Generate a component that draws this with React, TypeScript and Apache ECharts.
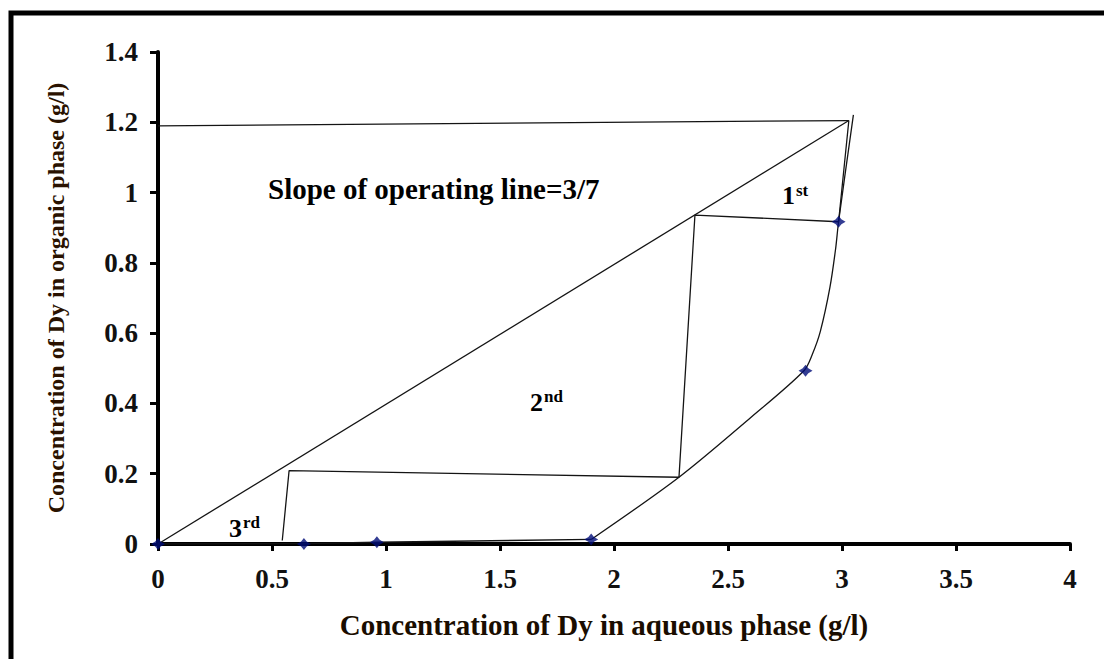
import React, { useEffect, useRef } from "react";
import * as echarts from "echarts";

// ---- data ----
// equilibrium curve: flat part along the axis, then the rising smooth part
const eqLowX = [0, 0.64, 0.96, 1.9];
const eqLowY = [0, 0.001, 0.005, 0.013];
const eqHighX = [1.9, 2.285, 2.6, 2.833, 2.87, 2.905, 2.947, 2.972, 2.985, 3.05];
const eqHighY = [0.013, 0.19, 0.36, 0.493, 0.54, 0.605, 0.73, 0.84, 0.917, 1.221];

const eqPointsX = [0, 0.64, 0.96, 1.9, 2.84, 2.985];
const eqPointsY = [0, 0, 0.005, 0.013, 0.493, 0.917];

const operatingX = [0, 3.03];
const operatingY = [0, 1.205];

const feedX = [0, 3.03];
const feedY = [1.19, 1.205];

const stepsX = [3.03, 2.985, 2.355, 2.285, 0.575, 0.545];
const stepsY = [1.205, 0.917, 0.936, 0.19, 0.209, 0.01];

const X_MIN = 0, X_MAX = 4, X_INT = 0.5;
const Y_MIN = 0, Y_MAX = 1.4, Y_INT = 0.2;

const xTitle = "Concentration of Dy in aqueous phase (g/l)";
const yTitle = "Concentration of Dy in organic phase (g/l)";
const slopeText = "Slope of operating line=3/7";

const zip = (xs: number[], ys: number[]) => xs.map((x, i) => [x, ys[i]]);

const STAR = "path://M0,-10 L4,-4 L10,0 L4,4 L0,10 L-4,4 L-10,0 L-4,-4 Z";
const SERIF = "'Liberation Serif', 'Times New Roman', serif";
const LINE = { color: "#141414", width: 1.3 };

export default function App() {
  const ref = useRef<HTMLDivElement>(null);
  useEffect(() => {
    if (!ref.current) return;
    const chart = echarts.init(ref.current, null, { renderer: "svg" });
    const textStyle = (fontSize: number) => ({ fontFamily: SERIF, fontWeight: "bold", fontSize, fill: "#000" });
    chart.setOption({
      animation: false,
      backgroundColor: "#fff",
      grid: { left: 158, right: 34, top: 52, bottom: 115 },
      xAxis: {
        type: "value",
        min: X_MIN,
        max: X_MAX,
        interval: X_INT,
        name: xTitle,
        nameLocation: "middle",
        nameGap: 66,
        nameTextStyle: {
          fontFamily: SERIF,
          fontWeight: "bold",
          fontSize: 29,
          color: "#1a0d00",
          padding: [0, 20, 0, 0],
        },
        splitLine: { show: false },
        axisLine: { onZero: false, lineStyle: { color: "#000", width: 4 } },
        axisTick: { show: true, inside: false, length: 7, lineStyle: { color: "#000", width: 3 } },
        axisLabel: { margin: 21, fontFamily: SERIF, fontWeight: "bold", fontSize: 27, color: "#111" },
      },
      yAxis: {
        type: "value",
        min: Y_MIN,
        max: Y_MAX,
        interval: Y_INT,
        name: yTitle,
        nameLocation: "middle",
        nameGap: 90,
        nameTextStyle: { fontFamily: SERIF, fontWeight: "bold", fontSize: 24, color: "#2a1200" },
        splitLine: { show: false },
        axisLine: { onZero: false, lineStyle: { color: "#000", width: 4 } },
        axisTick: { show: true, inside: false, length: 8, lineStyle: { color: "#000", width: 3 } },
        axisLabel: { margin: 20, fontFamily: SERIF, fontWeight: "bold", fontSize: 27, color: "#111" },
      },
      series: [
        { type: "line", name: "feed", data: zip(feedX, feedY), symbol: "none", lineStyle: LINE },
        { type: "line", name: "operating", data: zip(operatingX, operatingY), symbol: "none", lineStyle: LINE },
        { type: "line", name: "steps", data: zip(stepsX, stepsY), symbol: "none", lineStyle: LINE },
        { type: "line", name: "equilibriumLow", data: zip(eqLowX, eqLowY), symbol: "none", lineStyle: LINE },
        {
          type: "line",
          name: "equilibriumHigh",
          data: zip(eqHighX, eqHighY),
          symbol: "none",
          smooth: 0.3,
          lineStyle: LINE,
        },
        {
          type: "scatter",
          name: "points",
          data: zip(eqPointsX, eqPointsY),
          symbol: STAR,
          symbolSize: [14, 12],
          itemStyle: { color: "#000c78" },
          z: 5,
        },
      ],
      graphic: [
        {
          type: "rect",
          shape: { x: 11, y: 13, width: 1200, height: 800 },
          style: { fill: "none", stroke: "#000", lineWidth: 5 },
          silent: true,
        },
        { type: "text", x: 268, y: 189, style: { ...textStyle(29), text: slopeText, verticalAlign: "middle" } },
        { type: "text", x: 782, y: 195, style: { ...textStyle(26), text: "1", verticalAlign: "middle" } },
        { type: "text", x: 796, y: 190, style: { ...textStyle(17), text: "st", verticalAlign: "middle" } },
        { type: "text", x: 530, y: 402, style: { ...textStyle(26), text: "2", verticalAlign: "middle" } },
        { type: "text", x: 544, y: 396, style: { ...textStyle(17), text: "nd", verticalAlign: "middle" } },
        { type: "text", x: 229, y: 528, style: { ...textStyle(26), text: "3", verticalAlign: "middle" } },
        { type: "text", x: 243, y: 522, style: { ...textStyle(17), text: "rd", verticalAlign: "middle" } },
      ],
    });
    return () => chart.dispose();
  }, []);
  return <div ref={ref} style={{ position: "fixed", left: 0, top: 0, width: 1104, height: 659 }} />;
}
